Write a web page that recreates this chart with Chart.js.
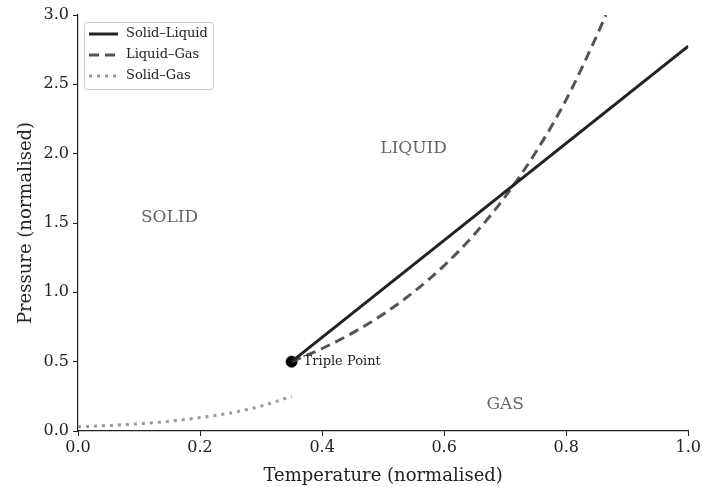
<!DOCTYPE html>
<html>
<head>
<meta charset="utf-8">
<script src="https://cdn.jsdelivr.net/npm/chart.js@4/dist/chart.umd.min.js"></script>
<style>
  html, body { margin: 0; padding: 0; background: #fff; }
  #wrap { width: 703px; height: 487px; position: relative; }
</style>
</head>
<body>
<div id="wrap"><canvas id="fase"></canvas></div>
<script>
const solidLiquidX = [0.35, 1.0];
const solidLiquidY = [0.5, 2.775];
const liquidGasX = [0.35, 0.4, 0.45, 0.5, 0.55, 0.6, 0.65, 0.7, 0.75, 0.8, 0.85, 0.865];
const liquidGasY = [0.5, 0.595, 0.708, 0.842, 1.003, 1.193, 1.42, 1.69, 2.01, 2.39, 2.85, 3.0];
const solidGasX = [0.0, 0.05, 0.1, 0.15, 0.2, 0.25, 0.3, 0.35];
const solidGasY = [0.03, 0.04, 0.052, 0.07, 0.097, 0.13, 0.18, 0.25];
const triplePoint = [0.35, 0.5];
const regions = [
  { text: "SOLID", x: 0.15, y: 1.54 },
  { text: "LIQUID", x: 0.55, y: 2.04 },
  { text: "GAS", x: 0.70, y: 0.19 },
];
const xTicks = [0, 0.2, 0.4, 0.6, 0.8, 1.0];
const yTicks = [0, 0.5, 1.0, 1.5, 2.0, 2.5, 3.0];

const serif = "'DejaVu Serif', serif";
const pts = (xs, ys) => xs.map((x, i) => ({ x: x, y: ys[i] }));

// region names + triple point label
const textosPlugin = {
  id: "textos",
  afterDatasetsDraw(chart) {
    const { ctx, scales } = chart;
    ctx.save();
    ctx.font = "17px " + serif;
    ctx.fillStyle = "#666";
    ctx.textAlign = "center";
    ctx.textBaseline = "middle";
    regions.forEach((r) => {
      ctx.fillText(r.text, scales.x.getPixelForValue(r.x), scales.y.getPixelForValue(r.y));
    });
    ctx.font = "13px " + serif;
    ctx.fillStyle = "#222";
    ctx.textAlign = "left";
    ctx.fillText("Triple Point", scales.x.getPixelForValue(triplePoint[0]) + 12, scales.y.getPixelForValue(triplePoint[1]));
    ctx.restore();
  },
};

// legend drawn inside the plot, top-left
const legendaPlugin = {
  id: "legenda",
  afterDraw(chart) {
    const { ctx, chartArea } = chart;
    const sets = chart.data.datasets.filter((d) => d.label);
    const x0 = chartArea.left + 6, y0 = chartArea.top + 7;
    const w = 129, rowH = 21, h = sets.length * rowH + 4;
    ctx.save();
    ctx.fillStyle = "rgba(255,255,255,0.85)";
    ctx.strokeStyle = "#ccc";
    ctx.lineWidth = 1;
    ctx.beginPath();
    ctx.roundRect(x0 + 0.5, y0 + 0.5, w, h, 3);
    ctx.fill();
    ctx.stroke();
    ctx.font = "13px " + serif;
    ctx.textBaseline = "middle";
    sets.forEach((d, i) => {
      const cy = y0 + 12 + i * rowH;
      ctx.strokeStyle = d.borderColor;
      ctx.lineWidth = d.borderWidth;
      ctx.setLineDash(d.borderDash || []);
      ctx.beginPath();
      ctx.moveTo(x0 + 5, cy);
      ctx.lineTo(x0 + 34, cy);
      ctx.stroke();
      ctx.setLineDash([]);
      ctx.fillStyle = "#222";
      ctx.fillText(d.label, x0 + 42, cy);
    });
    ctx.restore();
  },
};

new Chart(document.getElementById("fase"), {
  type: "scatter",
  data: {
    datasets: [
      {
        label: "Solid–Liquid",
        data: pts(solidLiquidX, solidLiquidY),
        showLine: true,
        borderColor: "#222",
        borderWidth: 3,
        pointRadius: 0,
      },
      {
        label: "Liquid–Gas",
        data: pts(liquidGasX, liquidGasY),
        showLine: true,
        borderColor: "#555",
        borderWidth: 3,
        borderDash: [10, 6],
        cubicInterpolationMode: "monotone",
        pointRadius: 0,
      },
      {
        label: "Solid–Gas",
        data: pts(solidGasX, solidGasY),
        showLine: true,
        borderColor: "#999",
        borderWidth: 3,
        borderDash: [3, 5],
        cubicInterpolationMode: "monotone",
        pointRadius: 0,
      },
      {
        data: [{ x: triplePoint[0], y: triplePoint[1] }],
        pointRadius: 5.5,
        pointBackgroundColor: "#000",
        pointBorderColor: "#000",
      },
    ],
  },
  options: {
    responsive: true,
    maintainAspectRatio: false,
    animation: false,
    layout: { padding: { top: 15, right: 14, left: 12, bottom: 0 } },
    scales: {
      x: {
        type: "linear",
        min: 0,
        max: 1,
        afterBuildTicks: (axis) => { axis.ticks = xTicks.map((v) => ({ value: v })); },
        afterFit: (axis) => { axis.height = 56; },
        grid: { display: true, drawOnChartArea: false, drawTicks: true, tickLength: 5, tickColor: "#222", color: "#222" },
        border: { color: "#222", width: 1.2 },
        ticks: {
          color: "#222",
          padding: 2,
          font: { family: serif, size: 16 },
          callback: (v) => Number(v).toFixed(1),
        },
        title: {
          display: true,
          text: "Temperature (normalised)",
          color: "#222",
          font: { family: serif, size: 18 },
          padding: { top: 4, bottom: 0 },
        },
      },
      y: {
        type: "linear",
        min: 0,
        max: 3,
        afterBuildTicks: (axis) => { axis.ticks = yTicks.map((v) => ({ value: v })); },
        afterFit: (axis) => { axis.width = 66; },
        grid: { display: true, drawOnChartArea: false, drawTicks: true, tickLength: 5, tickColor: "#222", color: "#222" },
        border: { color: "#222", width: 1.2 },
        ticks: {
          color: "#222",
          padding: 4,
          font: { family: serif, size: 16 },
          callback: (v) => Number(v).toFixed(1),
        },
        title: {
          display: true,
          text: "Pressure (normalised)",
          color: "#222",
          font: { family: serif, size: 18 },
          padding: { bottom: 4 },
        },
      },
    },
    plugins: {
      legend: { display: false },
      tooltip: { enabled: false },
    },
  },
  plugins: [textosPlugin, legendaPlugin],
});
</script>
</body>
</html>
